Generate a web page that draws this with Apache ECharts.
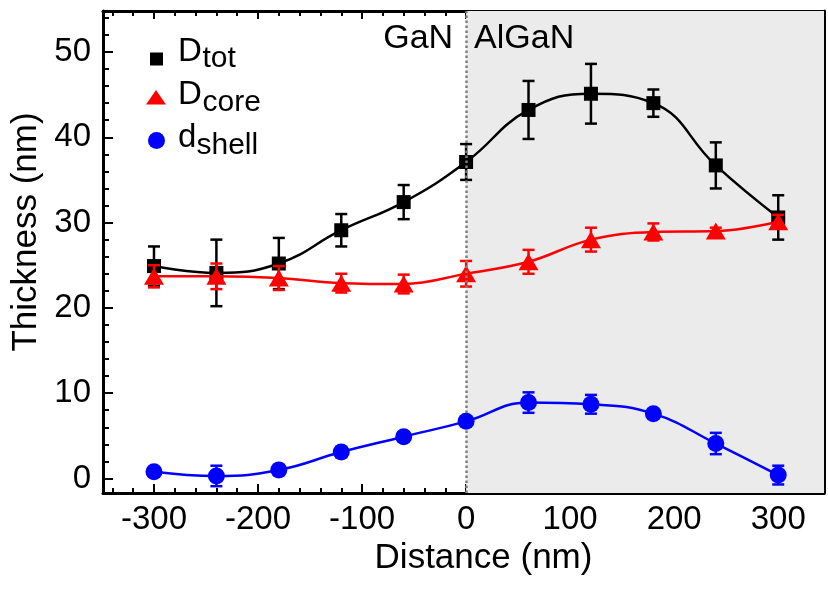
<!DOCTYPE html>
<html>
<head>
<meta charset="utf-8">
<script src="https://cdn.jsdelivr.net/npm/echarts@6/dist/echarts.min.js"></script>
<style>
html,body{margin:0;padding:0;background:#fff;}
#chart{width:828px;height:591px;}
</style>
</head>
<body>
<div id="chart"></div>
<script>
// ---- data ----
const distance = [-300, -240, -180, -120, -60, 0, 60, 120, 180, 240, 300];
const Dtot      = [24.9, 24.1, 25.2, 29.1, 32.4, 37.1, 43.2, 45.1, 44.0, 36.7, 30.6];
const DtotErr   = [2.3, 3.9, 3.0, 1.9, 2.0, 2.1, 3.4, 3.5, 1.6, 2.7, 2.6];
const Dcore     = [23.7, 23.7, 23.5, 22.9, 22.8, 24.0, 25.4, 28.0, 28.9, 29.0, 30.1];
const DcoreErr  = [1.3, 1.5, 1.4, 1.1, 1.1, 1.5, 1.4, 1.4, 1.0, 0.4, 0.8];
const dshell    = [0.8, 0.3, 1.0, 3.1, 4.9, 6.7, 8.9, 8.7, 7.6, 4.1, 0.4];
const dshellErr = [0.5, 1.2, 0.6, 0.6, 0.5, 0.5, 1.2, 1.1, 0.4, 1.25, 1.1];

const xTickLabels = [-300, -200, -100, 0, 100, 200, 300];
const yTickLabels = [0, 10, 20, 30, 40, 50];
const legendNames = [['D', 'tot'], ['D', 'core'], ['d', 'shell']];
const X_MIN = -349, X_MAX = 344;
const Y_MIN = -1.7, Y_MAX = 54.8;

const xMinor = []; for (let v = -340; v <= 340; v += 20) xMinor.push(v);
const yMinor = []; for (let v = 0; v <= 54; v += 2) yMinor.push(v);

const FONT = '"Liberation Sans", Arial, Helvetica, sans-serif';

function pairs(vals) { return distance.map((x, i) => [x, vals[i]]); }
function errData(vals, errs) { return distance.map((x, i) => [x, vals[i] - errs[i], vals[i] + errs[i]]); }
function errRender(color) {
  return function (params, api) {
    const x = api.value(0), lo = api.value(1), hi = api.value(2);
    const p1 = api.coord([x, hi]), p2 = api.coord([x, lo]);
    const hw = 6;
    const st = { stroke: color, lineWidth: 2.5 };
    return { type: 'group', children: [
      { type: 'line', shape: { x1: p1[0], y1: p1[1], x2: p2[0], y2: p2[1] }, style: st },
      { type: 'line', shape: { x1: p1[0] - hw, y1: p1[1], x2: p1[0] + hw, y2: p1[1] }, style: st },
      { type: 'line', shape: { x1: p2[0] - hw, y1: p2[1], x2: p2[0] + hw, y2: p2[1] }, style: st }
    ]};
  };
}

function xAx(pos, ticks, len, opts) {
  return Object.assign({
    type: 'value', min: X_MIN, max: X_MAX, position: pos,
    axisLine: { show: true, onZero: false, lineStyle: { color: '#000', width: 3 } },
    axisTick: { show: true, inside: true, length: len, customValues: ticks, lineStyle: { color: '#000', width: 2 } },
    axisLabel: { show: false },
    splitLine: { show: false }
  }, opts || {});
}
function yAx(pos, ticks, len, opts) {
  return Object.assign({
    type: 'value', min: Y_MIN, max: Y_MAX, position: pos,
    axisLine: { show: true, onZero: false, lineStyle: { color: '#000', width: 3 } },
    axisTick: { show: true, inside: true, length: len, customValues: ticks, lineStyle: { color: '#000', width: 2 } },
    axisLabel: { show: false },
    splitLine: { show: false }
  }, opts || {});
}

const chart = echarts.init(document.getElementById('chart'), null, { renderer: 'canvas' });

const option = {
  animation: false,
  backgroundColor: '#fff',
  grid: { left: 103, right: 4, top: 11, bottom: 98, containLabel: false },
  xAxis: [
    xAx('bottom', xTickLabels, 9, {
      axisLabel: { show: true, customValues: xTickLabels, fontFamily: FONT, fontSize: 33, color: '#000', margin: 10 },
      name: 'Distance (nm)', nameLocation: 'middle', nameGap: 45,
      nameTextStyle: { fontFamily: FONT, fontSize: 35, color: '#000', padding: [0, 0, 0, 40] }
    }),
    xAx('bottom', xMinor, 5, { axisLine: { show: false, onZero: false } }),
    xAx('top', xTickLabels, 8),
    xAx('top', xMinor, 5, { axisLine: { show: false, onZero: false } })
  ],
  yAxis: [
    yAx('left', yTickLabels, 10, {
      axisLabel: { show: true, customValues: yTickLabels, fontFamily: FONT, fontSize: 33, color: '#000', margin: 12 },
      name: 'Thickness (nm)', nameLocation: 'middle', nameGap: 53,
      nameTextStyle: { fontFamily: FONT, fontSize: 35, color: '#000', padding: [0, 0, 0, 40] }
    }),
    yAx('left', yMinor, 6, { axisLine: { show: false, onZero: false } }),
    yAx('right', yTickLabels, 9),
    yAx('right', yMinor, 5, { axisLine: { show: false, onZero: false } })
  ],
  series: [
    {
      name: 'region', type: 'line', data: [], z: 0, silent: true,
      markArea: { silent: true, itemStyle: { color: '#ebebeb' }, data: [[{ xAxis: 0 }, { xAxis: X_MAX }]] },
      markLine: { silent: true, symbol: 'none', label: { show: false },
        lineStyle: { type: 'dotted', color: '#7f7f7f', width: 2.5 }, data: [{ xAxis: 0 }] }
    },
    {
      name: 'Dtot', type: 'line', data: pairs(Dtot), smooth: 0.45, z: 3,
      symbol: 'rect', symbolSize: 14,
      lineStyle: { color: '#000', width: 2.5 }, itemStyle: { color: '#000' }
    },
    { name: 'DtotErr', type: 'custom', data: errData(Dtot, DtotErr), renderItem: errRender('#000'), z: 3, encode: { x: 0, y: [1, 2] } },
    {
      name: 'Dcore', type: 'line', data: pairs(Dcore), smooth: 0.4, z: 4,
      symbol: 'triangle', symbolSize: [20, 17],
      lineStyle: { color: '#ff0000', width: 2.5 }, itemStyle: { color: '#ff0000' }
    },
    { name: 'DcoreErr', type: 'custom', data: errData(Dcore, DcoreErr), renderItem: errRender('#ff0000'), z: 4, encode: { x: 0, y: [1, 2] } },
    {
      name: 'dshell', type: 'line', data: pairs(dshell), smooth: 0.45, z: 5,
      symbol: 'circle', symbolSize: 17,
      lineStyle: { color: '#0000ff', width: 2.5 }, itemStyle: { color: '#0000ff' }
    },
    { name: 'dshellErr', type: 'custom', data: errData(dshell, dshellErr), renderItem: errRender('#0000ff'), z: 5, encode: { x: 0, y: [1, 2] } }
  ]
};
chart.setOption(option);

const x0 = chart.convertToPixel({ xAxisIndex: 0 }, 0);
const yTop = chart.convertToPixel({ yAxisIndex: 0 }, Y_MAX);
const gl = echarts.graphic;
function txt(x, y, s, size) {
  return { type: 'text', x: x, y: y, z: 20,
    style: { text: s, font: size + 'px ' + FONT, fill: '#000', align: 'left', verticalAlign: 'middle' } };
}
chart.setOption({
  graphic: [
    { type: 'text', x: x0 - 13, y: yTop + 28, z: 10,
      style: { text: 'GaN', font: '34px ' + FONT, fill: '#000', align: 'right', verticalAlign: 'middle' } },
    { type: 'text', x: x0 + 8, y: yTop + 28, z: 10,
      style: { text: 'AlGaN', font: '34px ' + FONT, fill: '#000', align: 'left', verticalAlign: 'middle' } },
    // legend
    { type: 'rect', z: 20, shape: { x: 150, y: 52.5, width: 13, height: 13 }, style: { fill: '#000' } },
    txt(178, 51.5, legendNames[0][0], 33), txt(202.5, 59, legendNames[0][1], 30),
    { type: 'polygon', z: 20, shape: { points: [[156, 90], [146, 104.5], [166, 104.5]] }, style: { fill: '#ff0000' } },
    txt(178, 95, legendNames[1][0], 33), txt(202.5, 103, legendNames[1][1], 30),
    { type: 'circle', z: 20, shape: { cx: 156.5, cy: 140.5, r: 8.5 }, style: { fill: '#0000ff' } },
    txt(178, 138, legendNames[2][0], 33), txt(196.5, 146, legendNames[2][1], 30)
  ]
});
</script>
</body>
</html>
